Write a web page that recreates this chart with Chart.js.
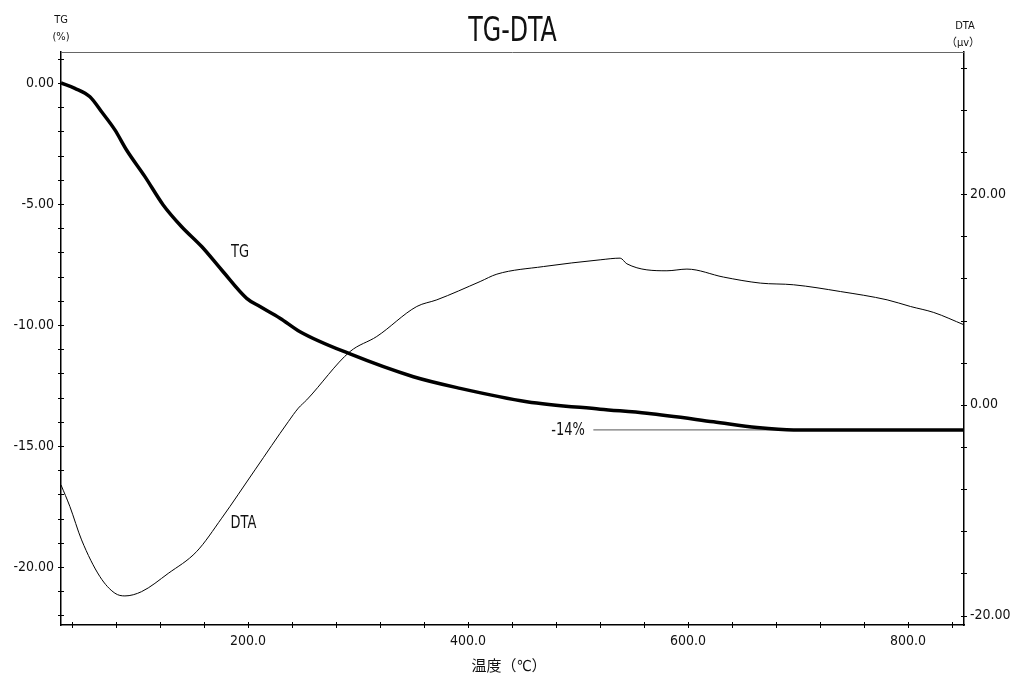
<!DOCTYPE html>
<html>
<head>
<meta charset="utf-8">
<script src="https://cdn.jsdelivr.net/npm/chart.js@4.4.0/dist/chart.umd.min.js"></script>
<style>
  html, body { margin: 0; padding: 0; background: #fff; }
  #wrap { width: 1014px; height: 678px; }
</style>
</head>
<body>
<div id="wrap"><canvas id="chart"></canvas></div>
<script>
// TG 曲线 (温度 ℃, 重量变化 %)
const tgTemp = [30, 42.6, 56.3, 66.9, 79.0, 89.6, 106.3, 122.9, 139.7, 157.9, 176.1, 198.8, 210.9, 229.1, 247.3, 292.8, 350.4, 392.9, 453.5, 520.2, 562.7, 623.3, 662.8, 696.1, 851];
const tgValues = [0, -0.22, -0.57, -1.19, -1.94, -2.77, -3.87, -5.04, -5.94, -6.76, -7.73, -8.90, -9.24, -9.72, -10.28, -11.20, -12.14, -12.62, -13.17, -13.48, -13.65, -14.00, -14.24, -14.34, -14.34];

// DTA 曲线 (温度 ℃, μV)
const dtaTemp = [30, 38.1, 48.7, 65.4, 79.0, 88.1, 103.3, 127.5, 153.3, 176.1, 206.4, 236.7, 245.8, 253.4, 292.8, 317.1, 353.5, 371.7, 411.1, 426.3, 468.6, 520.2, 538.4, 544.5, 580.9, 599.1, 632.4, 665.8, 696.1, 738.6, 781.1, 802.3, 823.5, 851];
const dtaValues = [-7.60, -9.66, -12.82, -16.31, -17.88, -18.14, -17.73, -16.00, -13.93, -10.76, -6.17, -1.59, -0.31, 0.47, 5.06, 6.49, 9.34, 9.97, 11.71, 12.41, 13.13, 13.77, 13.93, 13.39, 12.73, 12.89, 12.13, 11.56, 11.40, 10.76, 9.97, 9.34, 8.77, 7.60];

// -14% 引出线
const markTemp = [514, 696];
const markValues = [-14.34, -14.34];

// 刻度
const xTickValues = [40, 80, 120, 160, 200, 240, 280, 320, 360, 400, 440, 480, 520, 560, 600, 640, 680, 720, 760, 800, 840];
const xLabelValues = [200, 400, 600, 800];
const tgTickValues = [-22, -21, -20, -19, -18, -17, -16, -15, -14, -13, -12, -11, -10, -9, -8, -7, -6, -5, -4, -3, -2, -1, 0, 1];
const tgLabelValues = [-20, -15, -10, -5, 0];
const dtaTickValues = [-20, -16, -12, -8, -4, 0, 4, 8, 12, 16, 20, 24, 28, 32];
const dtaLabelValues = [-20, 0, 20];

const FONT = '"Liberation Sans Narrow", "DejaVu Sans Condensed", "Noto Sans CJK JP", sans-serif';

const toPoints = (xs, ys) => xs.map((x, i) => ({ x: x, y: ys[i] }));

// 横向压缩的文字（模仿原图的窄体字）
const narrowText = (ctx, text, x, y, squeeze) => {
    ctx.save();
    ctx.translate(x, y);
    ctx.scale(squeeze, 1);
    ctx.fillText(text, 0, 0);
    ctx.restore();
};

// 坐标轴两侧的短刻度、顶部边框和文字
const decorations = {
    id: 'decorations',
    afterDraw(chart) {
        const ctx = chart.ctx;
        const a = chart.chartArea;
        const sx = chart.scales.x, sl = chart.scales.yTG, sr = chart.scales.yDTA;

        ctx.save();
        ctx.strokeStyle = '#000';
        ctx.lineWidth = 1;
        ctx.beginPath();
        xTickValues.forEach(v => {
            const p = Math.round(sx.getPixelForValue(v)) + 0.5;
            ctx.moveTo(p, a.bottom - 3);
            ctx.lineTo(p, a.bottom + 3);
        });
        tgTickValues.forEach(v => {
            const p = Math.round(sl.getPixelForValue(v)) + 0.5;
            ctx.moveTo(a.left - 3, p);
            ctx.lineTo(a.left + 3, p);
        });
        dtaTickValues.forEach(v => {
            const p = Math.round(sr.getPixelForValue(v)) + 0.5;
            ctx.moveTo(a.right - 3, p);
            ctx.lineTo(a.right + 3, p);
        });
        ctx.stroke();

        // 顶部框线
        ctx.strokeStyle = '#666';
        ctx.beginPath();
        ctx.moveTo(a.left, a.top + 0.5);
        ctx.lineTo(a.right, a.top + 0.5);
        ctx.stroke();

        ctx.fillStyle = '#111';
        ctx.textAlign = 'center';
        ctx.textBaseline = 'middle';

        ctx.font = '33px ' + FONT;
        narrowText(ctx, 'TG-DTA', (a.left + a.right) / 2, 32, 0.8);

        ctx.font = '15px ' + FONT;
        ctx.fillText('温度（℃）', 509, 667);

        ctx.font = '11px ' + FONT;
        ctx.fillText('TG', 61, 20);
        ctx.fillText('(%)', 61, 37);
        ctx.fillText('DTA', 965, 26);
        ctx.fillText('（μv）', 963, 43);

        ctx.font = '17px ' + FONT;
        narrowText(ctx, 'TG', sx.getPixelForValue(192.7), sl.getPixelForValue(-7.02), 0.85);
        narrowText(ctx, 'DTA', sx.getPixelForValue(195.9), sr.getPixelForValue(-11.3), 0.85);
        narrowText(ctx, '-14%', sx.getPixelForValue(491), sl.getPixelForValue(-14.38), 0.85);
        ctx.restore();
    }
};

new Chart(document.getElementById('chart'), {
    type: 'line',
    data: {
        datasets: [
            {
                label: 'TG',
                data: toPoints(tgTemp, tgValues),
                yAxisID: 'yTG',
                borderColor: '#000',
                borderWidth: 3.5,
                pointRadius: 0,
                cubicInterpolationMode: 'monotone'
            },
            {
                label: 'DTA',
                data: toPoints(dtaTemp, dtaValues),
                yAxisID: 'yDTA',
                borderColor: '#000',
                borderWidth: 1,
                pointRadius: 0,
                cubicInterpolationMode: 'monotone'
            },
            {
                label: '-14%',
                data: toPoints(markTemp, markValues),
                yAxisID: 'yTG',
                borderColor: '#777',
                borderWidth: 1.2,
                pointRadius: 0
            }
        ]
    },
    options: {
        responsive: true,
        maintainAspectRatio: false,
        animation: false,
        layout: { padding: { top: 52, left: 0, right: 0, bottom: 0 } },
        plugins: {
            legend: { display: false },
            title: { display: false },
            tooltip: { enabled: false }
        },
        scales: {
            x: {
                type: 'linear',
                position: 'bottom',
                min: 30,
                max: 851,
                afterBuildTicks: s => { s.ticks = xLabelValues.map(v => ({ value: v })); },
                afterFit: s => { s.height = 53; },
                grid: { display: false, drawTicks: false },
                border: { display: true, color: '#000', width: 1.5 },
                ticks: {
                    padding: 8,
                    maxRotation: 0,
                    color: '#111',
                    font: { family: FONT, size: 14 },
                    callback: v => v.toFixed(1)
                }
            },
            yTG: {
                type: 'linear',
                position: 'left',
                min: -22.4,
                max: 1.28,
                afterBuildTicks: s => { s.ticks = tgLabelValues.map(v => ({ value: v })); },
                afterFit: s => { s.width = 61; },
                grid: { display: false, drawTicks: false },
                border: { display: true, color: '#000', width: 1.5 },
                ticks: {
                    padding: 7,
                    color: '#111',
                    font: { family: FONT, size: 14 },
                    callback: v => v.toFixed(2)
                }
            },
            yDTA: {
                type: 'linear',
                position: 'right',
                min: -20.9,
                max: 33.5,
                afterBuildTicks: s => { s.ticks = dtaLabelValues.map(v => ({ value: v })); },
                afterFit: s => { s.width = 50; },
                grid: { display: false, drawTicks: false },
                border: { display: true, color: '#000', width: 1.5 },
                ticks: {
                    padding: 6,
                    color: '#111',
                    font: { family: FONT, size: 14 },
                    callback: v => v.toFixed(2)
                }
            }
        }
    },
    plugins: [decorations]
});
</script>
</body>
</html>
